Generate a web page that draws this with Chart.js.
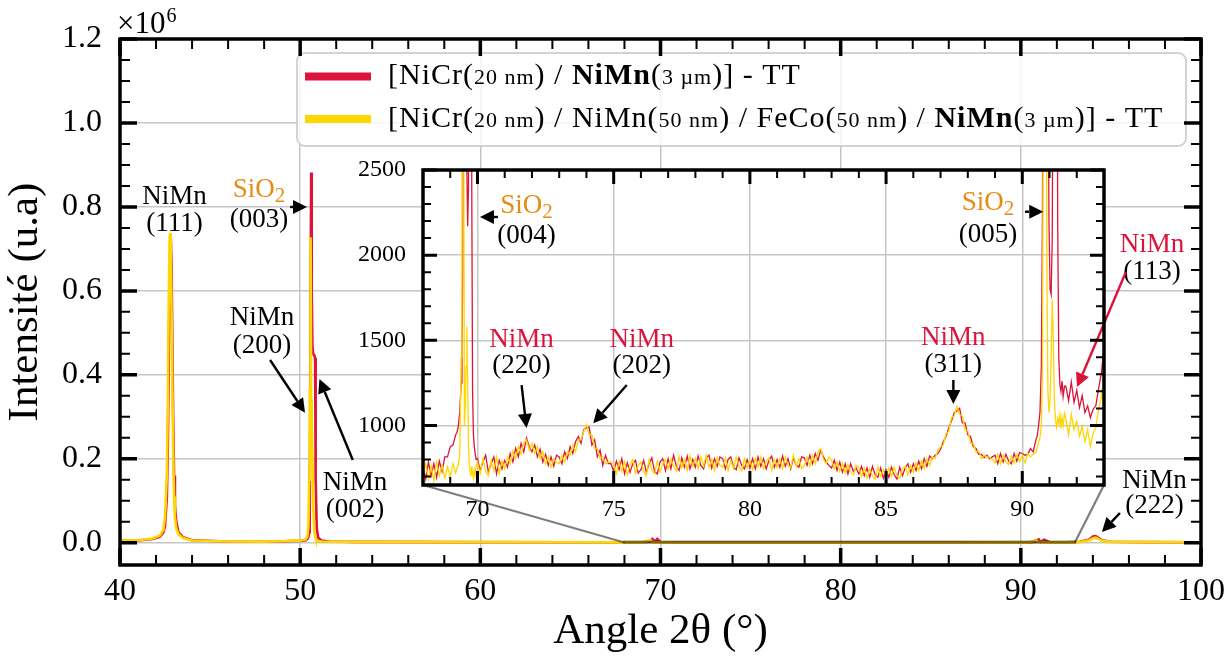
<!DOCTYPE html>
<html>
<head>
<meta charset="utf-8">
<title>DRX NiMn - TT</title>
<script src="https://cdn.jsdelivr.net/npm/chart.js@4.4.1/dist/chart.umd.min.js"></script>
<style>
  html, body { margin: 0; padding: 0; background: #fff; }
  #wrap { position: relative; width: 1231px; height: 658px; }
  #wrap canvas { position: absolute; left: 0; top: 0; }
</style>
</head>
<body>
<div id="wrap">
  <canvas id="mainChart" width="1231" height="658"></canvas>
  <canvas id="insetChart" width="1231" height="658"></canvas>
</div>
<script>
const RED = "#DC143C";
const GOLD = "#FFD700";
const ORANGE = "#E88B12";
const GRID = "#c6c6c6";
const SERIF = "'Liberation Serif', 'Times New Roman', serif";

const legendLabels = [
  "[NiCr(20 nm) / NiMn(3 µm)] - TT",
  "[NiCr(20 nm) / NiMn(50 nm) / FeCo(50 nm) / NiMn(3 µm)] - TT"
];

// ---- main pattern (2theta in degrees, counts) ----
const mainAngles = [
  40, 41, 41.8, 42.2, 42.4, 42.5, 42.6, 42.65, 42.7, 42.75,
  42.78, 42.82, 42.86, 42.9, 42.95, 43.0, 43.05, 43.12, 43.25, 43.5,
  44, 46, 48, 49, 49.5, 50, 50.3, 50.4, 50.46, 50.5,
  50.52, 50.54, 50.56, 50.58, 50.61, 50.64, 50.68, 50.72, 50.78, 50.83,
  50.86, 50.92, 51.0, 51.2, 51.6, 53, 58, 65, 69.0, 69.45,
  69.55, 69.7, 69.82, 70.0, 71, 75, 80, 85, 90.5, 90.8,
  91.0, 91.1, 91.3, 91.6, 92.5, 93.3, 93.8, 94.0, 94.15, 94.3,
  94.5, 95, 97, 100
];
const mainRedCounts = [
  4500, 5500, 9000, 14000, 24000, 40000, 110000, 220000, 400000, 600000,
  690000, 725000, 660000, 500000, 300000, 160000, 90000, 50000, 25000, 13000,
  6000, 3000, 2500, 3000, 4000, 4500, 6000, 9000, 14000, 25000,
  45000, 120000, 300000, 600000, 882000, 600000, 470000, 450000, 447000, 440000,
  150000, 35000, 12000, 5000, 3000, 2000, 1500, 1200, 1200, 3000,
  9000, 2500, 9000, 1200, 900, 900, 800, 800, 900, 3000,
  8000, 2000, 7000, 1300, 1100, 2500, 8000, 15000, 16000, 12000,
  6000, 2500, 1500, 1200
];
const mainGoldCounts = [
  5000, 6000, 10000, 17000, 30000, 60000, 160000, 320000, 560000, 720000,
  738000, 690000, 560000, 400000, 220000, 110000, 60000, 35000, 20000, 11000,
  5500, 3000, 2800, 3500, 5000, 5000, 8000, 15000, 40000, 150000,
  330000, 370000, 240000, 728000, 340000, 300000, 200000, 90000, 30000, 15000,
  10000, 6000, 4000, 3000, 2500, 2000, 1500, 1200, 1000, 6000,
  1500, 1200, 800, 800, 750, 750, 750, 750, 800, 6000,
  1200, 1800, 1000, 1000, 950, 2000, 6000, 11000, 12000, 9000,
  4500, 2000, 1400, 1100
];

// ---- inset (zoom 68-93 deg) ----
const insetAngles = [
  68.0, 68.1, 68.2, 68.3, 68.4, 68.5, 68.6, 68.7, 68.8, 68.9, 69.0, 69.1, 69.2,
  69.25, 69.30, 69.35, 69.40, 69.43, 69.46, 69.49, 69.52, 69.55, 69.58, 69.61,
  69.64, 69.67, 69.70, 69.73, 69.76, 69.79, 69.82, 69.85, 69.88, 69.91, 69.95,
  70.0, 70.1, 70.2, 70.3, 70.4, 70.5, 70.6, 70.7, 70.8, 70.9,
  71.0, 71.1, 71.2, 71.3, 71.4, 71.5, 71.6, 71.7, 71.8, 71.9,
  72.0, 72.1, 72.2, 72.3, 72.4, 72.5, 72.6, 72.7, 72.8, 72.9,
  73.0, 73.1, 73.2, 73.3, 73.4, 73.5, 73.6, 73.7, 73.8, 73.9,
  74.0, 74.1, 74.2, 74.3, 74.4, 74.5, 74.6, 74.7, 74.8, 74.9,
  75.0, 75.1, 75.2, 75.3, 75.4, 75.5, 75.6, 75.7, 75.8, 75.9,
  76.0, 76.1, 76.2, 76.3, 76.4, 76.5, 76.6, 76.7, 76.8, 76.9,
  77.0, 77.1, 77.2, 77.3, 77.4, 77.5, 77.6, 77.7, 77.8, 77.9,
  78.0, 78.1, 78.2, 78.3, 78.4, 78.5, 78.6, 78.7, 78.8, 78.9,
  79.0, 79.1, 79.2, 79.3, 79.4, 79.5, 79.6, 79.7, 79.8, 79.9,
  80.0, 80.1, 80.2, 80.3, 80.4, 80.5, 80.6, 80.7, 80.8, 80.9,
  81.0, 81.1, 81.2, 81.3, 81.4, 81.5, 81.6, 81.7, 81.8, 81.9,
  82.0, 82.1, 82.2, 82.3, 82.4, 82.5, 82.6, 82.7, 82.8, 82.9,
  83.0, 83.1, 83.2, 83.3, 83.4, 83.5, 83.6, 83.7, 83.8, 83.9,
  84.0, 84.1, 84.2, 84.3, 84.4, 84.5, 84.6, 84.7, 84.8, 84.9,
  85.0, 85.1, 85.2, 85.3, 85.4, 85.5, 85.6, 85.7, 85.8, 85.9,
  86.0, 86.1, 86.2, 86.3, 86.4, 86.5, 86.6, 86.7, 86.8, 86.9,
  87.0, 87.1, 87.2, 87.3, 87.4, 87.5, 87.6, 87.7, 87.8, 87.9,
  88.0, 88.1, 88.2, 88.3, 88.4, 88.5, 88.6, 88.7, 88.8, 88.9,
  89.0, 89.1, 89.2, 89.3, 89.4, 89.5, 89.6, 89.7, 89.8, 89.9,
  90.0, 90.1, 90.2, 90.3, 90.4, 90.5,
  90.55, 90.60, 90.65, 90.70, 90.74, 90.78, 90.82, 90.86, 90.90, 90.94,
  90.98, 91.02, 91.06, 91.10, 91.14, 91.18, 91.22, 91.26, 91.30, 91.34,
  91.38, 91.42, 91.46, 91.50, 91.55,
  91.6, 91.7, 91.8, 91.9, 92.0, 92.1, 92.2, 92.3, 92.4, 92.5,
  92.6, 92.7, 92.8, 92.9, 93.0
];
const insetRedCounts = [
  755, 685, 785, 705, 775, 695, 790, 730, 815, 815, 875, 885, 945,
  960, 1000, 1080, 1250, 1450, 1900, 3200, 7000, 9000, 4200, 2500,
  2170, 2400, 4500, 8000, 6500, 2400, 1200, 950, 880, 840, 800,
  805, 735, 785, 825, 725, 775, 815, 715, 795, 745,
  795, 755, 835, 785, 865, 815, 895, 845, 925, 875,
  845, 885, 815, 860, 785, 830, 765, 815, 760, 825,
  815, 775, 845, 805, 875, 835, 905, 935, 895, 975,
  985, 990, 885, 915, 815, 855, 765, 825, 775, 775,
  730, 790, 740, 805, 715, 780, 725, 775, 795, 720,
  740, 795, 725, 775, 810, 730, 715, 785, 805, 735,
  805, 745, 825, 760, 735, 810, 755, 820, 745, 800,
  755, 820, 765, 745, 810, 825, 750, 805, 760, 815,
  805, 745, 800, 815, 755, 740, 810, 765, 745, 800,
  750, 805, 745, 815, 760, 805, 745, 795, 820, 755,
  800, 755, 820, 760, 805, 745, 810, 765, 755, 815,
  810, 765, 825, 775, 835, 795, 855, 815, 785, 765,
  750, 795, 735, 785, 725, 775, 715, 775, 730, 750,
  715, 760, 705, 750, 695, 760, 710, 695, 750, 690,
  740, 695, 755, 710, 685, 755, 705, 750, 775, 725,
  775, 735, 790, 745, 805, 760, 820, 805, 825, 835,
  860, 905, 935, 985, 1025, 1075, 1085, 1100, 1015, 1015,
  945, 935, 875, 865, 830, 830, 810, 825, 805, 815,
  825, 775, 835, 785, 830, 790, 775, 835, 790, 840,
  835, 825, 830, 865, 845, 915,
  940, 1000, 1080, 1350, 2200, 4500, 7500, 9000, 7000, 3500,
  2200, 1800, 1770, 2100, 3800, 7500, 9000, 5000, 2200, 1400,
  1240, 1200, 1260, 1170, 1230,
  1230, 1145, 1255, 1135, 1205, 1105, 1175, 1075, 1115, 1045,
  1095, 1115, 1215, 1305, 1460
];
const insetGoldCounts = [
  705, 775, 685, 760, 675, 785, 705, 765, 690, 755, 700, 775, 720,
  750, 770, 830, 1400, 4000, 9000, 3200, 1000, 1120, 1350, 1580,
  1250, 880, 770, 730, 700, 760, 720, 690, 740, 710, 760,
  785, 715, 805, 730, 705, 795, 735, 815, 720, 790,
  745, 815, 775, 850, 805, 875, 830, 895, 915, 855,
  895, 835, 875, 805, 845, 775, 815, 755, 805, 785,
  775, 825, 785, 845, 825, 885, 845, 915, 915, 965,
  1005, 945, 945, 865, 865, 805, 815, 775, 785, 785,
  770, 715, 790, 730, 785, 710, 770, 800, 720, 765,
  785, 730, 705, 800, 740, 715, 790, 725, 775, 800,
  745, 805, 760, 730, 815, 750, 800, 735, 820, 760,
  805, 745, 815, 760, 825, 755, 800, 735, 810, 765,
  755, 810, 735, 795, 745, 815, 760, 730, 805, 750,
  795, 740, 805, 755, 815, 745, 790, 810, 735, 800,
  755, 805, 745, 815, 765, 750, 825, 760, 805, 745,
  765, 815, 760, 825, 775, 845, 865, 800, 775, 815,
  795, 745, 785, 730, 775, 720, 770, 725, 710, 765,
  755, 700, 750, 690, 745, 705, 685, 755, 700, 740,
  695, 750, 700, 755, 705, 690, 745, 760, 710, 765,
  725, 780, 735, 790, 745, 805, 765, 815, 805, 855,
  875, 885, 950, 965, 1045, 1055, 1110, 1065, 1055, 975,
  970, 895, 895, 845, 850, 805, 825, 815, 815, 800,
  780, 830, 775, 825, 785, 770, 820, 780, 830, 785,
  825, 780, 835, 815, 830, 840,
  870, 900, 930, 1000, 1300, 3500, 9000, 6000, 2000, 1200,
  1075, 1150, 1400, 1740, 1500, 1150, 1030, 990, 1040, 1010,
  1060, 980, 1050, 1000, 1070,
  1040, 945, 1065, 975, 1025, 935, 995, 905, 975, 875,
  955, 985, 1095, 1165, 1290
];

// ---- ticks ----
const mainXMajor = [40, 50, 60, 70, 80, 90, 100];
const mainXMinor = [42, 44, 46, 48, 52, 54, 56, 58, 62, 64, 66, 68, 72, 74, 76, 78, 82, 84, 86, 88, 92, 94, 96, 98];
const mainYMajor = [0, 200000, 400000, 600000, 800000, 1000000, 1200000];
const mainYMinor = [50000, 100000, 150000, 250000, 300000, 350000, 450000, 500000, 550000, 650000, 700000, 750000,
                    850000, 900000, 950000, 1050000, 1100000, 1150000];
const insetXMajor = [70, 75, 80, 85, 90];
const insetXMinor = [69, 71, 72, 73, 74, 76, 77, 78, 79, 81, 82, 83, 84, 86, 87, 88, 89, 91, 92];
const insetYMajor = [1000, 1500, 2000, 2500];
const insetYMinor = [700, 800, 900, 1100, 1200, 1300, 1400, 1600, 1700, 1800, 1900, 2100, 2200, 2300, 2400];

// zoomed window shown in the inset
const zoomBox = { x0: 68, x1: 93, y0: 650, y1: 2500 };

// peak labels, anchored in data coordinates
const mainLabels = [
  { x: 43.02, y: 807000, head: "NiMn", hkl: "(111)", gap: 27, color: "#000" },
  { x: 47.71, y: 823600, head: "SiO2", hkl: "(003)", gap: 30, color: ORANGE, from: [49.44, 799800], to: [50.38, 799800] },
  { x: 47.88, y: 518700, head: "NiMn", hkl: "(200)", gap: 28, color: "#000", from: [48.33, 435300], to: [50.27, 309800] },
  { x: 53.04, y: 125700, head: "NiMn", hkl: "(002)", gap: 27, color: "#000", from: [52.92, 197100], to: [51.07, 390100] },
  { x: 97.42, y: 130400, head: "NiMn", hkl: "(222)", gap: 25, color: "#000", from: [95.50, 70900], to: [94.50, 25600] }
];
const insetLabels = [
  { x: 71.80, y: 2247, head: "SiO2", hkl: "(004)", gap: 30, color: ORANGE, from: [70.75, 2224], to: [70.09, 2224] },
  { x: 71.62, y: 1460, head: "NiMn", hkl: "(220)", gap: 26, color: RED, from: [71.62, 1237], to: [71.80, 985] },
  { x: 76.03, y: 1460, head: "NiMn", hkl: "(202)", gap: 26, color: RED, from: [75.48, 1237], to: [74.25, 1012] },
  { x: 88.74, y: 2265, head: "SiO2", hkl: "(005)", gap: 32, color: ORANGE, from: [90.10, 2255], to: [90.77, 2255] },
  { x: 87.47, y: 1472, head: "NiMn", hkl: "(311)", gap: 27, color: RED, from: [87.47, 1267], to: [87.47, 1126] },
  { x: 94.76, y: 2018, head: "NiMn", hkl: "(113)", gap: 27, color: RED, from: [93.80, 1900], to: [92.01, 1225], arrowColor: RED }
];

function toPoints(xs, ys) {
  return xs.map((x, i) => ({ x: x, y: ys[i] }));
}

// keep the plot box fixed: no extra room for overflowing tick labels
function fixedBox(size) {
  return s => {
    if (s.isHorizontal()) {
      s.height = size;
    } else {
      s.width = size;
    }
    s.paddingLeft = 0;
    s.paddingRight = 0;
    s.paddingTop = 0;
    s.paddingBottom = 0;
  };
}

function drawArrow(ctx, x1, y1, x2, y2, color) {
  const ang = Math.atan2(y2 - y1, x2 - x1);
  const headLen = 14, headHalf = 7;
  const bx = x2 - headLen * Math.cos(ang);
  const by = y2 - headLen * Math.sin(ang);
  ctx.save();
  ctx.strokeStyle = color;
  ctx.fillStyle = color;
  ctx.lineWidth = 2.4;
  ctx.beginPath();
  ctx.moveTo(x1, y1);
  ctx.lineTo(bx, by);
  ctx.stroke();
  ctx.beginPath();
  ctx.moveTo(x2, y2);
  ctx.lineTo(bx + headHalf * Math.sin(ang), by - headHalf * Math.cos(ang));
  ctx.lineTo(bx - headHalf * Math.sin(ang), by + headHalf * Math.cos(ang));
  ctx.closePath();
  ctx.fill();
  ctx.restore();
}

function drawPeakLabels(chart, labels) {
  const { ctx, scales: { x, y } } = chart;
  ctx.save();
  ctx.textBaseline = "alphabetic";
  labels.forEach(item => {
    const px = x.getPixelForValue(item.x);
    const py = y.getPixelForValue(item.y);
    ctx.fillStyle = item.color;
    if (item.head === "SiO2") {
      ctx.font = "27px " + SERIF;
      const w1 = ctx.measureText("SiO").width;
      ctx.font = "21px " + SERIF;
      const w2 = ctx.measureText("2").width;
      const left = px - (w1 + w2) / 2;
      ctx.textAlign = "left";
      ctx.font = "27px " + SERIF;
      ctx.fillText("SiO", left, py);
      ctx.font = "21px " + SERIF;
      ctx.fillText("2", left + w1, py + 5);
    } else {
      ctx.textAlign = "center";
      ctx.font = "27px " + SERIF;
      ctx.fillText(item.head, px, py);
    }
    ctx.textAlign = "center";
    ctx.fillStyle = "#000";
    ctx.font = "27px " + SERIF;
    ctx.fillText(item.hkl, px, py + item.gap);
    if (item.from) {
      drawArrow(ctx,
        x.getPixelForValue(item.from[0]), y.getPixelForValue(item.from[1]),
        x.getPixelForValue(item.to[0]), y.getPixelForValue(item.to[1]),
        item.arrowColor || "#000");
    }
  });
  ctx.restore();
}

function drawFrame(chart, t, s) {
  const { ctx, chartArea: a, scales: { x, y } } = chart;
  ctx.save();
  ctx.strokeStyle = "#000";
  const xMarks = (vals, len, width) => {
    ctx.lineWidth = width;
    ctx.beginPath();
    vals.forEach(v => {
      const p = x.getPixelForValue(v);
      ctx.moveTo(p, a.bottom); ctx.lineTo(p, a.bottom - len);
      ctx.moveTo(p, a.top); ctx.lineTo(p, a.top + len);
    });
    ctx.stroke();
  };
  const yMarks = (vals, len, width) => {
    ctx.lineWidth = width;
    ctx.beginPath();
    vals.forEach(v => {
      const p = y.getPixelForValue(v);
      ctx.moveTo(a.left, p); ctx.lineTo(a.left + len, p);
      ctx.moveTo(a.right, p); ctx.lineTo(a.right - len, p);
    });
    ctx.stroke();
  };
  xMarks(t.xMinor, s.minor, s.minorWidth);
  yMarks(t.yMinor, s.minor, s.minorWidth);
  xMarks(t.xMajor, s.major, s.majorWidth);
  yMarks(t.yMajor, s.major, s.majorWidth);
  ctx.lineWidth = s.frame;
  ctx.strokeRect(a.left, a.top, a.right - a.left, a.bottom - a.top);
  ctx.restore();
}

const legendRows = [
  { color: RED, y: 76.5, base: 84, parts: [["[NiCr(", "n"], ["20 nm", "s"], [") / ", "n"], ["NiMn", "b"], ["(", "n"], ["3 µm", "s"], [")] - TT", "n"]] },
  { color: GOLD, y: 119, base: 127, parts: [["[NiCr(", "n"], ["20 nm", "s"], [") / NiMn(", "n"], ["50 nm", "s"], [") / FeCo(", "n"],
      ["50 nm", "s"], [") / ", "n"], ["NiMn", "b"], ["(", "n"], ["3 µm", "s"], [")] - TT", "n"]] }
];
const legendFonts = { n: "30px " + SERIF, s: "22px " + SERIF, b: "bold 30px " + SERIF };

function drawLegend(ctx) {
  ctx.save();
  ctx.beginPath();
  ctx.roundRect(297, 53, 889, 93, 8);
  ctx.fillStyle = "rgba(255,255,255,0.8)";
  ctx.fill();
  ctx.strokeStyle = "rgba(200,200,200,0.8)";
  ctx.lineWidth = 2;
  ctx.stroke();
  legendRows.forEach(row => {
    ctx.strokeStyle = row.color;
    ctx.lineWidth = 8;
    ctx.beginPath();
    ctx.moveTo(305, row.y);
    ctx.lineTo(371, row.y);
    ctx.stroke();
    ctx.fillStyle = "#000";
    ctx.textAlign = "left";
    ctx.textBaseline = "alphabetic";
    ctx.letterSpacing = "1px";
    let cx = 388;
    row.parts.forEach(([text, f]) => {
      ctx.font = legendFonts[f];
      ctx.fillText(text, cx, row.base);
      cx += ctx.measureText(text).width;
    });
  });
  ctx.restore();
}

const insetBackground = {
  id: "insetBackground",
  beforeDraw(chart) {
    const { ctx, chartArea: a } = chart;
    ctx.save();
    ctx.fillStyle = "#fff";
    ctx.fillRect(a.left, a.top, a.right - a.left, a.bottom - a.top);
    ctx.restore();
  }
};

const insetDecor = {
  id: "insetDecor",
  afterDraw(chart) {
    drawPeakLabels(chart, insetLabels);
    drawFrame(chart,
      { xMajor: insetXMajor, xMinor: insetXMinor, yMajor: insetYMajor, yMinor: insetYMinor },
      { major: 14, minor: 8, majorWidth: 3, minorWidth: 2, frame: 3.5 });
  }
};

function tickFont(size) {
  return { family: SERIF, size: size };
}

const insetChart = new Chart(document.getElementById("insetChart"), {
  type: "line",
  data: {
    datasets: [
      { label: legendLabels[0], data: toPoints(insetAngles, insetRedCounts), borderColor: RED,
        borderWidth: 1.3, pointRadius: 0, tension: 0, order: 1 },
      { label: legendLabels[1], data: toPoints(insetAngles, insetGoldCounts), borderColor: GOLD,
        borderWidth: 1.3, pointRadius: 0, tension: 0, order: 0 }
    ]
  },
  options: {
    responsive: false,
    animation: false,
    devicePixelRatio: 1,
    events: [],
    layout: { padding: { left: 300, top: 170, right: 127, bottom: 0 } },
    plugins: { legend: { display: false }, tooltip: { enabled: false } },
    scales: {
      x: {
        type: "linear", min: zoomBox.x0, max: zoomBox.x1,
        afterBuildTicks: s => { s.ticks = insetXMajor.map(v => ({ value: v })); },
        afterFit: fixedBox(173),
        grid: { color: GRID, lineWidth: 1.5, drawTicks: false },
        border: { display: false },
        ticks: { font: tickFont(24), color: "#000", padding: 10, autoSkip: false, maxRotation: 0, minRotation: 0,
                 callback: v => String(v) }
      },
      y: {
        type: "linear", min: zoomBox.y0, max: zoomBox.y1,
        afterBuildTicks: s => { s.ticks = insetYMajor.map(v => ({ value: v })); },
        afterFit: fixedBox(123),
        grid: { color: GRID, lineWidth: 1.5, drawTicks: false },
        border: { display: false },
        ticks: { font: tickFont(24), color: "#000", padding: 17, autoSkip: false,
                 callback: v => String(v) }
      }
    }
  },
  plugins: [insetBackground, insetDecor]
});

const mainDecor = {
  id: "mainDecor",
  afterDraw(chart) {
    const { ctx, scales: { x, y } } = chart;
    const ia = insetChart.chartArea;

    // zoom window and connectors
    const rx0 = x.getPixelForValue(zoomBox.x0), rx1 = x.getPixelForValue(zoomBox.x1);
    const ry0 = y.getPixelForValue(zoomBox.y0), ry1 = y.getPixelForValue(zoomBox.y1);
    ctx.save();
    ctx.strokeStyle = "rgba(0,0,0,0.5)";
    ctx.lineWidth = 2.2;
    ctx.strokeRect(rx0, ry1, rx1 - rx0, ry0 - ry1);
    ctx.beginPath();
    ctx.moveTo(rx0, ry0); ctx.lineTo(ia.left, ia.bottom);
    ctx.moveTo(rx1, ry0); ctx.lineTo(ia.right, ia.bottom);
    ctx.stroke();
    ctx.restore();

    drawPeakLabels(chart, mainLabels);
    drawLegend(ctx);

    // axis multiplier
    ctx.save();
    ctx.fillStyle = "#000";
    ctx.textAlign = "left";
    ctx.textBaseline = "alphabetic";
    ctx.font = "31px " + SERIF;
    ctx.fillText("×10", 117, 33);
    const w = ctx.measureText("×10").width;
    ctx.font = "20px " + SERIF;
    ctx.fillText("6", 117 + w + 1, 22);
    ctx.restore();

    drawFrame(chart,
      { xMajor: mainXMajor, xMinor: mainXMinor, yMajor: mainYMajor, yMinor: mainYMinor },
      { major: 17, minor: 10, majorWidth: 3.5, minorWidth: 2, frame: 3.5 });
  }
};

new Chart(document.getElementById("mainChart"), {
  type: "line",
  data: {
    datasets: [
      { label: legendLabels[0], data: toPoints(mainAngles, mainRedCounts), borderColor: RED,
        borderWidth: 2.6, pointRadius: 0, tension: 0, order: 1 },
      { label: legendLabels[1], data: toPoints(mainAngles, mainGoldCounts), borderColor: GOLD,
        borderWidth: 2.6, pointRadius: 0, tension: 0, order: 0 }
    ]
  },
  options: {
    responsive: false,
    animation: false,
    devicePixelRatio: 1,
    events: [],
    layout: { padding: { left: 0, top: 39, right: 30, bottom: 0 } },
    plugins: { legend: { display: false }, tooltip: { enabled: false } },
    scales: {
      x: {
        type: "linear", min: 40, max: 100,
        afterBuildTicks: s => { s.ticks = mainXMajor.map(v => ({ value: v })); },
        afterFit: fixedBox(93),
        grid: { color: GRID, lineWidth: 1.5, drawTicks: false },
        border: { display: false },
        ticks: { font: tickFont(32), color: "#000", padding: 7, autoSkip: false, maxRotation: 0, minRotation: 0,
                 callback: v => String(v) },
        title: { display: true, text: "Angle 2θ (°)", font: { family: SERIF, size: 43 }, color: "#000", padding: 0 }
      },
      y: {
        type: "linear", min: -53000, max: 1200000,
        afterBuildTicks: s => { s.ticks = mainYMajor.map(v => ({ value: v })); },
        afterFit: fixedBox(120),
        grid: { color: GRID, lineWidth: 1.5, drawTicks: false },
        border: { display: false },
        ticks: { font: tickFont(32), color: "#000", padding: 18, autoSkip: false,
                 callback: v => (v / 1e6).toFixed(1) },
        title: { display: true, text: "Intensité (u.a)", font: { family: SERIF, size: 43 }, color: "#000", padding: 0 }
      }
    }
  },
  plugins: [mainDecor]
});
</script>
</body>
</html>
